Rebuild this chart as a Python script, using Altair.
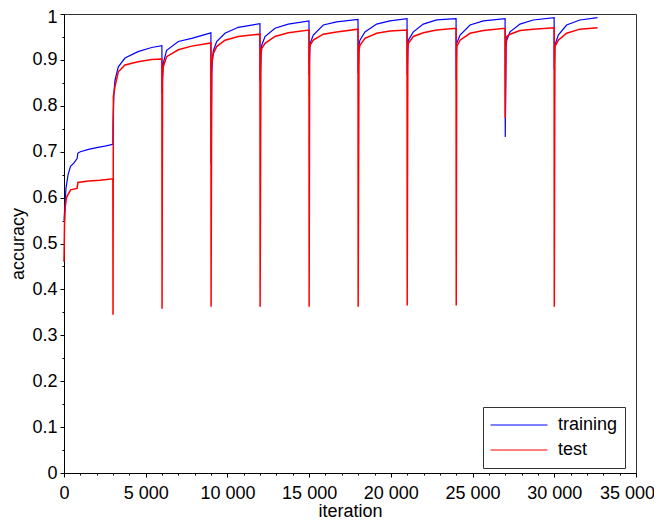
import altair as alt
import pandas as pd

# ---- data ----
train_iter = [0, 50, 120, 250, 400, 600, 800, 850, 1000, 1500, 2000, 2500, 2990,
              3000, 3060, 3120, 3325, 3730, 4530, 5365, 5990,
              6000, 6040, 6075, 6280, 6995, 7810, 8990,
              9000, 9040, 9100, 9140, 9340, 9850, 10665, 11990,
              12000, 12060, 12100, 12300, 12910, 13725, 14990,
              15000, 15050, 15255, 15865, 16680, 17990,
              18000, 18060, 18110, 18415, 19130, 19945, 20990,
              21000, 21050, 21070, 21375, 21985, 22800, 23990,
              24000, 24030, 24235, 24845, 25660, 26990,
              27000, 27050, 27090, 27290, 27900, 28715, 29990,
              30000, 30040, 30245, 30755, 31570, 32650]
train_acc = [0.55, 0.58, 0.62, 0.65, 0.668, 0.675, 0.685, 0.697, 0.700, 0.705, 0.709, 0.712, 0.716,
             0.765, 0.83, 0.856, 0.885, 0.904, 0.918, 0.927, 0.931,
             0.827, 0.87, 0.893, 0.921, 0.94, 0.947, 0.959,
             0.675, 0.87, 0.91, 0.92, 0.94, 0.958, 0.971, 0.979,
             0.853, 0.915, 0.932, 0.951, 0.969, 0.978, 0.985,
             0.867, 0.935, 0.954, 0.976, 0.983, 0.988,
             0.871, 0.935, 0.943, 0.961, 0.978, 0.985, 0.99,
             0.867, 0.935, 0.943, 0.961, 0.978, 0.987, 0.99,
             0.856, 0.936, 0.954, 0.976, 0.985, 0.99,
             0.732, 0.93, 0.943, 0.961, 0.978, 0.987, 0.992,
             0.88, 0.932, 0.954, 0.976, 0.987, 0.992]

test_iter = [0, 30, 80, 150, 400, 800, 850, 1500, 2200, 2990,
             3000, 3020, 3120, 3325, 3730, 4530, 5365, 5990,
             6000, 6030, 6075, 6280, 6995, 7810, 8990,
             9000, 9040, 9140, 9340, 9850, 10665, 11990,
             12000, 12050, 12100, 12300, 12910, 13725, 14990,
             15000, 15030, 15050, 15255, 15865, 16680, 17990,
             18000, 18050, 18110, 18415, 19130, 19945, 20990,
             21000, 21040, 21070, 21375, 21985, 22800, 23990,
             24000, 24030, 24235, 24845, 25660, 26990,
             27000, 27040, 27090, 27290, 27900, 28715, 29990,
             30000, 30040, 30245, 30755, 31570, 32650]
test_acc = [0.46, 0.54, 0.58, 0.60, 0.617, 0.62, 0.633, 0.636, 0.638, 0.641,
            0.345, 0.82, 0.842, 0.874, 0.889, 0.896, 0.901, 0.902,
            0.358, 0.86, 0.885, 0.907, 0.922, 0.93, 0.937,
            0.362, 0.89, 0.914, 0.929, 0.943, 0.951, 0.956,
            0.362, 0.91, 0.925, 0.936, 0.951, 0.959, 0.965,
            0.362, 0.92, 0.932, 0.943, 0.956, 0.961, 0.967,
            0.362, 0.92, 0.932, 0.947, 0.958, 0.963, 0.965,
            0.365, 0.925, 0.936, 0.951, 0.959, 0.965, 0.969,
            0.365, 0.929, 0.943, 0.958, 0.964, 0.969,
            0.773, 0.935, 0.951, 0.956, 0.964, 0.967, 0.970,
            0.362, 0.929, 0.943, 0.958, 0.967, 0.970]

series_names = ["training", "test"]
series_colors = ["#0000ff", "#ff0000"]

x_ticks = list(range(0, 35001, 1000))
y_ticks = [0, 0.05, 0.1, 0.15, 0.2, 0.25, 0.3, 0.35, 0.4, 0.45, 0.5,
           0.55, 0.6, 0.65, 0.7, 0.75, 0.8, 0.85, 0.9, 0.95, 1.0]

df_train = pd.DataFrame({"iteration": train_iter, "accuracy": train_acc, "series": "training"})
df_test = pd.DataFrame({"iteration": test_iter, "accuracy": test_acc, "series": "test"})

FONT = "Liberation Sans"

x_enc = alt.X(
    "iteration:Q",
    scale=alt.Scale(domain=[0, 35000], nice=False),
    axis=alt.Axis(
        values=x_ticks,
        title="iteration",
        grid=False,
        labelFlush=False,
        labelOverlap=False,
        labelExpr="datum.value % 5000 === 0 ? replace(format(datum.value, ','), ',', ' ') : ''",
        labelOffset={"condition": {"test": "datum.value === 35000", "value": -9}, "value": 0},
        tickSize={"condition": {"test": "datum.value % 5000 === 0", "value": 4}, "value": 2},
        labelPadding=7,
        titlePadding=0,
    ),
)
y_enc = alt.Y(
    "accuracy:Q",
    scale=alt.Scale(domain=[0, 1], nice=False),
    axis=alt.Axis(
        values=y_ticks,
        title="accuracy",
        grid=False,
        labelFlush=False,
        labelOverlap=False,
        labelExpr="round(datum.value * 20) % 2 === 0 ? format(datum.value, '~g') : ''",
        labelOffset={"condition": {"test": "datum.value === 1", "value": 3}, "value": 0},
        tickSize={"condition": {"test": "round(datum.value * 20) % 2 === 0", "value": 4}, "value": 2},
        labelPadding=3,
        titlePadding=4,
    ),
)
color_enc = alt.Color(
    "series:N",
    scale=alt.Scale(domain=series_names, range=series_colors),
    legend=alt.Legend(
        title=None,
        orient="none",
        legendX=419,
        legendY=393,
        symbolType="stroke",
        symbolSize=3249,
        symbolStrokeWidth=1,
        labelFontSize=18,
        labelFont=FONT,
        labelColor="black",
        labelOffset=10,
        clipHeight=22,
        strokeColor="#333333",
        fillColor="white",
        padding=7,
        rowPadding=3,
    ),
)

train_line = alt.Chart(df_train).mark_line(strokeWidth=1.2).encode(x=x_enc, y=y_enc, color=color_enc)
test_line = alt.Chart(df_test).mark_line(strokeWidth=1.5).encode(x=x_enc, y=y_enc, color=color_enc)

chart = (
    alt.layer(train_line, test_line)
    .properties(
        width=572,
        height=459,
        autosize=alt.AutoSizeParams(type="none"),
        padding={"left": 56, "top": 6, "right": 18, "bottom": 46},
        background="white",
    )
    .configure_view(stroke="#333333", strokeWidth=1)
    .configure_axis(
        labelFont=FONT,
        labelFontSize=18,
        labelColor="black",
        titleFont=FONT,
        titleFontSize=18,
        titleFontWeight="normal",
        titleColor="black",
        domainColor="black",
        tickColor="black",
    )
)

chart.save("out.html", embed_options={"renderer": "svg", "actions": False})
